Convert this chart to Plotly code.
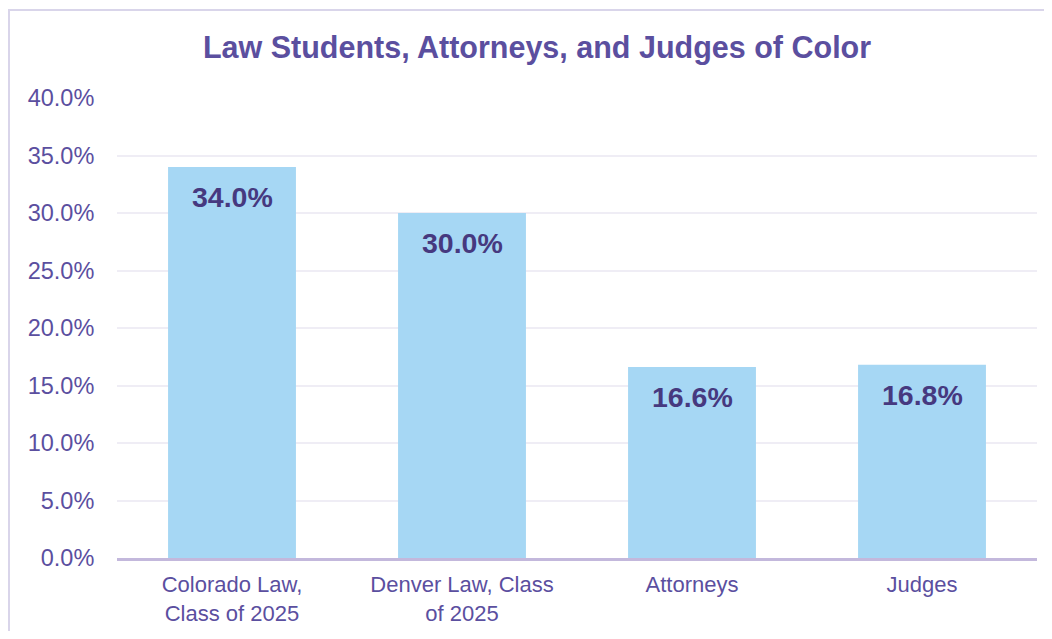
import plotly.graph_objects as go

categories = ["Colorado Law,<br>Class of 2025", "Denver Law, Class<br>of 2025", "Attorneys", "Judges"]
values = [34.0, 30.0, 16.6, 16.8]
labels = ["34.0%", "30.0%", "16.6%", "16.8%"]
y_ticks = [0, 5, 10, 15, 20, 25, 30, 35, 40]
y_tick_labels = ["0.0%", "5.0%", "10.0%", "15.0%", "20.0%", "25.0%", "30.0%", "35.0%", "40.0%"]

TICK = "#5b4f9f"
LABEL = "#46397f"
FONT = "Liberation Sans, Arial, sans-serif"

# page has an 8px body margin: figure sized so page == 1052x639
W, H = 1036, 623
L, R, T, B = 109, 7, 90, 73
PW, PH = W - L - R, H - T - B

fig = go.Figure()
fig.add_trace(go.Bar(
    x=categories, y=values,
    marker=dict(color="#a6d7f4", line=dict(width=0)),
    hoverinfo="skip",
))

for c, v, t in zip(categories, values, labels):
    fig.add_annotation(x=c, y=v, text=t, showarrow=False, yanchor="top", yshift=-12,
                       font=dict(family=FONT, size=28.5, color=LABEL, weight="bold"))

fig.update_layout(
    width=W, height=H,
    margin=dict(l=L, r=R, t=T, b=B, autoexpand=False),
    paper_bgcolor="white", plot_bgcolor="white",
    showlegend=False,
    bargap=0.444,
    title=dict(text="<b>Law Students, Attorneys, and Judges of Color</b>",
               x=529 / W, xanchor="center", y=1 - 39 / H, yanchor="middle",
               font=dict(family=FONT, size=30.5, color=TICK)),
    font=dict(family=FONT, color=TICK),
)
fig.update_yaxes(
    range=[0, 40], tickvals=y_ticks, ticktext=y_tick_labels,
    tickfont=dict(size=23.5, color=TICK, family=FONT),
    showgrid=True, gridcolor="#efedf5", gridwidth=1.5,
    zeroline=False, showline=False, automargin=False,
    ticks="outside", ticklen=17, tickcolor="rgba(0,0,0,0)",
)
fig.update_xaxes(
    tickfont=dict(size=22, color=TICK, family=FONT),
    showline=True, linecolor="#c3b8dc", linewidth=3, automargin=False,
    ticks="outside", ticklen=5, tickcolor="rgba(0,0,0,0)",
)
fig.add_shape(type="rect", xref="paper", yref="paper",
              x0=(1 - L) / PW, x1=(W + 20 - L) / PW,
              y0=-(B + 20) / PH, y1=(T + PH - 2) / PH,
              line=dict(color="#d9d5ea", width=2), layer="below")

fig.write_html("out.html")
